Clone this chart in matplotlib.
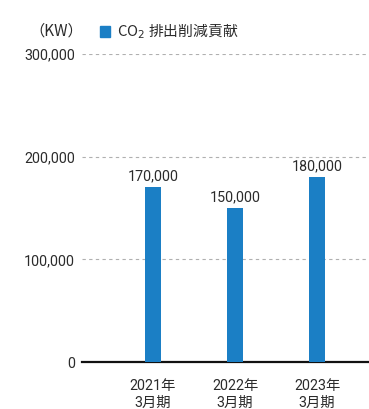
import matplotlib
matplotlib.use("Agg")
import matplotlib.pyplot as plt
from matplotlib.patches import Rectangle

plt.rcParams['font.family'] = ['Roboto', 'Noto Sans CJK JP', 'DejaVu Sans']

categories = ["2021年\n3月期", "2022年\n3月期", "2023年\n3月期"]
values = [170000, 150000, 180000]
value_labels = ["170,000", "150,000", "180,000"]
yticks = [0, 100000, 200000, 300000]
ytick_labels = ["0", "100,000", "200,000", "300,000"]
unit_label = "（KW）"
series_name = "CO$_2$ 排出削減貢献"

bar_color = "#1b7fc5"
text_color = "#2b2b2b"

fig = plt.figure(figsize=(3.69, 4.09), dpi=100)
ax = fig.add_axes([82/369, (409-362)/409, (369-82)/369, (362-54)/409])

x = list(range(len(categories)))
ax.bar(x, values, width=0.195, color=bar_color, zorder=3)
for xi, v, lab in zip(x, values, value_labels):
    ax.annotate(lab, (xi, v), xytext=(0, 3), textcoords="offset points",
                ha="center", va="bottom", fontsize=10.3, color=text_color,
                family=['Roboto', 'DejaVu Sans'])

ax.set_xlim(-0.866, 2.634)
ax.set_ylim(0, 300000)
ax.set_yticks(yticks)
ax.set_yticklabels(ytick_labels, fontsize=10.3, color=text_color)
ax.set_xticks(x)
ax.set_xticklabels(categories, fontsize=10.3, color=text_color, linespacing=1.3,
                   family=['Roboto', 'Noto Sans CJK JP'])
ax.tick_params(axis='y', length=0, pad=5)
ax.tick_params(axis='x', length=0, pad=12)

for yv in yticks[1:]:
    ax.axhline(yv, color="#b0b0b0", lw=0.8, ls=(0, (3, 3)), zorder=1)

for s in ["top", "right", "left"]:
    ax.spines[s].set_visible(False)
ax.spines["bottom"].set_color("#111111")
ax.spines["bottom"].set_linewidth(1.6)

fig.text(56/369, 1 - 31/409, unit_label, ha="center", va="center", fontsize=11,
         color=text_color, family=['Noto Sans CJK JP', 'DejaVu Sans'])
fig.patches.append(Rectangle((100/369, 1 - 37/409), 10/369, 11/409,
                             transform=fig.transFigure, color=bar_color))
fig.text(117/369, 1 - 31/409, series_name, ha="left", va="center", fontsize=10.7,
         color=text_color, family=['Noto Sans CJK JP', 'DejaVu Sans'])

fig.savefig("out.png", dpi=100)
